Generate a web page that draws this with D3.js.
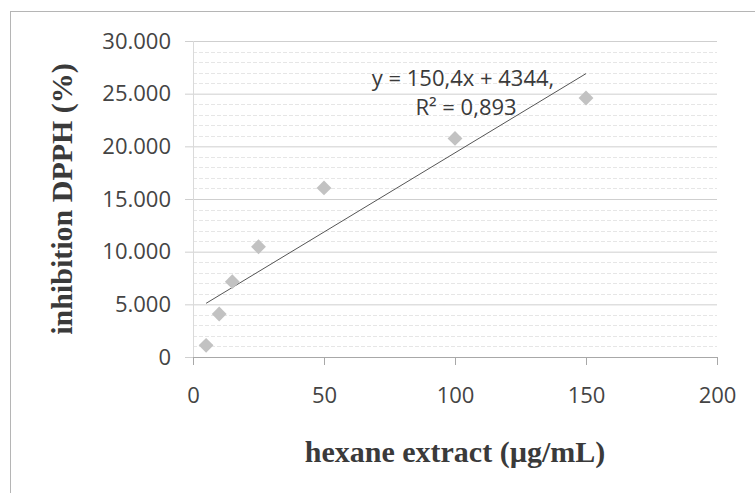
<!DOCTYPE html>
<meta charset="utf-8">
<style>
    body {
        margin: 0;
        background: #fff;
    }

    svg {
        display: block;
    }

    .tick text {
        font-family: "Open Sans", sans-serif;
        font-size: 22px;
        fill: #444;
    }

    .title {
        font-family: "Liberation Serif", "Times New Roman", serif;
        font-weight: bold;
        font-size: 30px;
        fill: #3a3a3a;
    }

    .eq {
        font-family: "Open Sans", sans-serif;
        font-size: 22px;
        fill: #3a3a3a;
    }
</style>
<body>
<script src="https://cdn.jsdelivr.net/npm/d3@7"></script>
<script>
    // data
    const concentration = [5, 10, 15, 25, 50, 100, 150];
    const inhibition = [1110, 4080, 7150, 10470, 16050, 20750, 24590];

    // linear trend printed on the chart
    const slope = 150.4;
    const intercept = 4344;
    const eqLines = ["y = 150,4x + 4344,", "R\u00B2 = 0,893"];

    const xTicks = [0, 50, 100, 150, 200];
    const yTicks = [0, 5000, 10000, 15000, 20000, 25000, 30000];
    const yMinor = d3.range(0, 30001, 1000);

    const xLabel = "hexane extract (\u00B5g/mL)";
    const yLabel = "inhibition DPPH (%)";

    const width = 755;
    const height = 493;

    // plot area
    const plot = {left: 193, right: 717, top: 41, bottom: 357};

    const x = d3.scaleLinear().domain([0, 200]).range([plot.left, plot.right]);
    const y = d3.scaleLinear().domain([0, 30000]).range([plot.bottom, plot.top]);

    // european style numbers: 30.000
    const locale = d3.formatLocale({decimal: ",", thousands: ".", grouping: [3], currency: ["", ""]});
    const fmt = locale.format(",.0f");

    const svg = d3.select("body")
        .append("svg")
        .attr("width", width)
        .attr("height", height);

    // chart area border (top and left edge show, the rest is cut off)
    svg.append("rect")
        .attr("x", 10.5)
        .attr("y", 11.5)
        .attr("width", width + 20)
        .attr("height", height + 20)
        .attr("fill", "none")
        .attr("stroke", "#b5b5b5");

    // minor gridlines
    svg.append("g")
        .selectAll("line")
        .data(yMinor.filter(d => d % 5000 !== 0))
        .enter().append("line")
        .attr("x1", plot.left)
        .attr("x2", plot.right)
        .attr("y1", d => Math.round(y(d)) + 0.5)
        .attr("y2", d => Math.round(y(d)) + 0.5)
        .attr("stroke", "#e6e6e6")
        .attr("stroke-dasharray", "4,2");

    // y axis with major gridlines
    const yAxis = d3.axisLeft(y)
        .tickValues(yTicks)
        .tickSize(plot.right - plot.left + 8)
        .tickPadding(14)
        .tickFormat(d => fmt(d));

    svg.append("g")
        .attr("class", "y axis")
        .attr("transform", "translate(" + plot.right + ",0)")
        .call(yAxis)
        .call(g => g.select(".domain").remove())
        .call(g => g.selectAll(".tick line").attr("stroke", "#cfcfcf"));

    // vertical axis line
    svg.append("line")
        .attr("x1", plot.left + 0.5)
        .attr("x2", plot.left + 0.5)
        .attr("y1", plot.top)
        .attr("y2", plot.bottom)
        .attr("stroke", "#dadada");

    // x axis
    const xAxis = d3.axisBottom(x)
        .tickValues(xTicks)
        .tickSize(8)
        .tickSizeOuter(0)
        .tickPadding(22);

    svg.append("g")
        .attr("class", "x axis")
        .attr("transform", "translate(0," + plot.bottom + ")")
        .call(xAxis)
        .call(g => g.select(".domain").attr("stroke", "#a8a8a8"))
        .call(g => g.selectAll(".tick line").attr("stroke", "#a8a8a8"));

    // trend line
    const xFirst = d3.min(concentration), xLast = d3.max(concentration);
    svg.append("line")
        .attr("x1", x(xFirst))
        .attr("y1", y(slope * xFirst + intercept))
        .attr("x2", x(xLast))
        .attr("y2", y(slope * xLast + intercept))
        .attr("stroke", "#555")
        .attr("stroke-width", 1);

    // points
    const pts = concentration.map((c, i) => ({c: c, v: inhibition[i]}));
    svg.append("g")
        .selectAll("path")
        .data(pts)
        .enter().append("path")
        .attr("d", d3.symbol().type(d3.symbolSquare).size(110))
        .attr("transform", d => "translate(" + x(d.c) + "," + y(d.v) + ") rotate(45)")
        .attr("fill", "#c2c2c2");

    // equation label
    svg.append("text")
        .attr("class", "eq")
        .attr("text-anchor", "middle")
        .selectAll("tspan")
        .data(eqLines)
        .enter().append("tspan")
        .attr("x", (d, i) => i === 0 ? 463 : 466)
        .attr("y", (d, i) => 86 + i * 29)
        .text(d => d);

    // axis titles
    svg.append("text")
        .attr("class", "title")
        .attr("text-anchor", "middle")
        .attr("x", 455)
        .attr("y", 462)
        .text(xLabel);

    svg.append("text")
        .attr("class", "title")
        .attr("text-anchor", "middle")
        .attr("transform", "translate(72,199) rotate(-90)")
        .text(yLabel);
</script>
</body>
</html>
